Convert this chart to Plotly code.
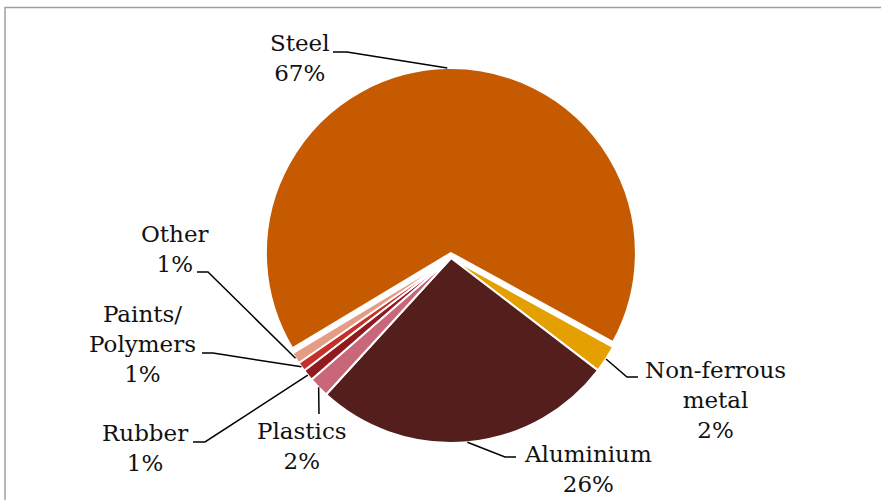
import math
import plotly.graph_objects as go

W, H = 881, 500

# ---- data ----
labels = ["Steel", "Non-ferrous metal", "Aluminium", "Plastics", "Rubber", "Paints/Polymers", "Other"]
label_text = ["Steel", "Non-ferrous<br>metal", "Aluminium", "Plastics", "Rubber", "Paints/<br>Polymers", "Other"]
values = [66.6, 2.4, 26.4, 1.8, 1.0, 0.8, 1.0]
colors = ["#C55A00", "#E3A000", "#541E1C", "#C9677A", "#8F1B1F", "#C5302A", "#E59C84"]
pulls = [0.027, 0, 0, 0, 0, 0, 0]

# ---- layout constants (pixels) ----
ROT = 239
CX, CY, R = 451, 258, 185
box = 2 * R * (1 + max(pulls))
dom_x = [(CX - box / 2) / W, (CX + box / 2) / W]
dom_y = [1 - (CY + box / 2) / H, 1 - (CY - box / 2) / H]

# label block centre, elbow and end of leader line (pixels)
label_layout = [
    dict(cx=300, cy=58, pts=[(347, 52), (333, 52)]),
    dict(cx=715, cy=400, pts=[(627, 377), (638, 377)]),
    dict(cx=588, cy=469, pts=[(505, 457), (516, 457)]),
    dict(cx=302, cy=446, pts=[(319, 414)]),
    dict(cx=145, cy=448, pts=[(205, 442), (193, 442)]),
    dict(cx=142, cy=344, pts=[(213, 353), (202, 353)]),
    dict(cx=175, cy=249, pts=[(208, 272), (197, 272)]),
]

def px(x):
    return x / W

def py(y):
    return 1 - y / H

fig = go.Figure(go.Pie(
    labels=labels, values=values, sort=False, direction="clockwise",
    rotation=ROT, pull=pulls, textinfo="none", hoverinfo="label+percent",
    marker=dict(colors=colors, line=dict(color="white", width=2)),
    domain=dict(x=dom_x, y=dom_y),
))

total = sum(values)
ang = ROT
shapes = []
annotations = []
for i, v in enumerate(values):
    span = v / total * 360
    mid = math.radians(ang + span / 2)
    ang += span
    rr = R * (1 + pulls[i])
    sx = CX + rr * math.sin(mid)
    sy = CY - rr * math.cos(mid)
    lay = label_layout[i]
    path = f"M {px(sx)},{py(sy)}"
    for (x, y) in lay["pts"]:
        path += f" L {px(x)},{py(y)}"
    shapes.append(dict(type="path", path=path, xref="paper", yref="paper",
                       line=dict(color="black", width=1.5)))
    pct = round(v / total * 100)
    annotations.append(dict(
        x=px(lay["cx"]), y=py(lay["cy"]), xref="paper", yref="paper",
        xanchor="center", yanchor="middle", align="center", showarrow=False,
        text=f"{label_text[i]}<br>{pct}%",
        font=dict(family="DejaVu Serif", size=23, color="#111111"),
    ))

# chart-area frame
shapes.append(dict(type="rect", xref="paper", yref="paper",
                   x0=px(5), x1=px(W + 20), y0=py(H + 20), y1=py(7.5),
                   line=dict(color="#A0A0A0", width=1.5)))

fig.update_layout(
    width=W, height=H, margin=dict(l=0, r=0, t=0, b=0),
    paper_bgcolor="white", plot_bgcolor="white", showlegend=False,
    shapes=shapes, annotations=annotations,
)

fig.write_html("out.html")
